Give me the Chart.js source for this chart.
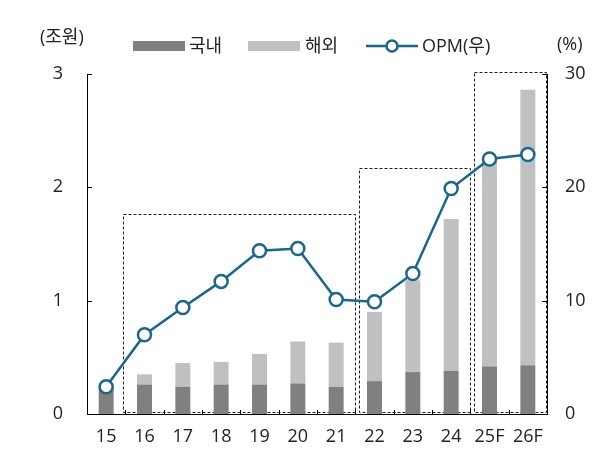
<!DOCTYPE html>
<html>
<head>
<meta charset="utf-8">
<script src="https://cdn.jsdelivr.net/npm/chart.js@4"></script>
<style>
  html, body { margin:0; padding:0; background:#fff; }
  #wrap { position:relative; width:609px; height:450px; font-family:'Open Sans','Noto Sans CJK KR',sans-serif; color:#222; }
  canvas { position:absolute; left:0; top:0; }
  .t { position:absolute; font-size:18px; line-height:20px; white-space:nowrap; }
  .box { position:absolute; height:10px; width:52px; }
  #lg-line { position:absolute; }
</style>
</head>
<body>
<div id="wrap">
  <canvas id="c" width="609" height="450"></canvas>
  <div class="t" style="left:40px; top:26px;">(조원)</div>
  <div class="t" style="left:557px; top:33px;">(%)</div>
  <div class="box" style="left:133px; top:41px; background:#808080;"></div>
  <div class="t" style="left:189px; top:35px;">국내</div>
  <div class="box" style="left:248px; top:41px; background:#c0c0c0;"></div>
  <div class="t" style="left:305px; top:35px;">해외</div>
  <svg id="lg-line" style="left:366px; top:36px;" width="52" height="20">
    <line x1="0" y1="10" x2="52" y2="10" stroke="#1a668c" stroke-width="2.5"/>
    <circle cx="26" cy="10" r="5.5" fill="#fff" stroke="#1a668c" stroke-width="2.5"/>
  </svg>
  <div class="t" style="left:422px; top:35px;">OPM(우)</div>
</div>
<script>
const categories = ['15','16','17','18','19','20','21','22','23','24','25F','26F'];
const domestic = [0.24,0.26,0.24,0.26,0.26,0.27,0.24,0.29,0.37,0.38,0.42,0.43];
const overseas = [0.00,0.09,0.21,0.20,0.27,0.37,0.39,0.61,0.81,1.34,1.82,2.43];
const opm = [2.4,7.0,9.4,11.7,14.4,14.6,10.1,9.9,12.4,19.9,22.5,22.9];
const leftTicks = [0,1,2,3];
const rightTicks = [0,10,20,30];
// dashed groups: first category index, last category index, top value (left axis)
const groupStart = [1,7,10];
const groupEnd = [6,9,11];
const groupTop = [1.765,2.17,3.02];

const FONT = "'Open Sans','Noto Sans CJK KR',sans-serif";
const LINE = '#1a668c';

const decor = {
  id:'decor',
  beforeDatasetsDraw(chart){
    const {ctx, chartArea} = chart;
    const x = chart.scales.x, y = chart.scales.y;
    const half = (x.getPixelForValue(1) - x.getPixelForValue(0))/2;
    ctx.save();
    ctx.strokeStyle = '#1e1e1e';
    ctx.lineWidth = 1;
    ctx.setLineDash([3,2]);
    for (let g=0; g<groupStart.length; g++){
      let l = x.getPixelForValue(groupStart[g]) - half + (g===0 ? -2.5 : 3.5);
      let r = x.getPixelForValue(groupEnd[g]) + half - 1;
      let t = y.getPixelForValue(groupTop[g]);
      let b = chartArea.bottom - 2;
      ctx.strokeRect(Math.round(l)+0.5, Math.round(t)+0.5, Math.round(r-l), Math.round(b-t));
    }
    ctx.restore();
  },
  afterDraw(chart){
    const {ctx, chartArea} = chart;
    const x = chart.scales.x, y = chart.scales.y, y1 = chart.scales.y1;
    ctx.save();
    ctx.strokeStyle = '#000';
    ctx.lineWidth = 1;
    ctx.beginPath();
    y.ticks.forEach(t=>{
      const py = Math.round(y.getPixelForValue(t.value))+0.5;
      ctx.moveTo(chartArea.left, py); ctx.lineTo(chartArea.left+5, py);
    });
    y1.ticks.forEach(t=>{
      const py = Math.round(y1.getPixelForValue(t.value))+0.5;
      ctx.moveTo(chartArea.right, py); ctx.lineTo(chartArea.right-5, py);
    });
    for (let i=1;i<categories.length;i++){
      const px = Math.round((x.getPixelForValue(i-1)+x.getPixelForValue(i))/2)+0.5;
      ctx.moveTo(px, chartArea.bottom); ctx.lineTo(px, chartArea.bottom-4);
    }
    ctx.stroke();
    ctx.restore();
  }
};

new Chart(document.getElementById('c'), {
  data:{
    labels: categories,
    datasets:[
      { type:'line', label:'OPM(우)', data:opm, yAxisID:'y1', order:0,
        borderColor:LINE, borderWidth:2.5, tension:0,
        pointRadius:6.5, pointBorderWidth:2.5, pointBackgroundColor:'#fff', pointBorderColor:LINE },
      { type:'bar', label:'국내', data:domestic, backgroundColor:'#808080', yAxisID:'y', stack:'s', order:1,
        barPercentage:0.39, categoryPercentage:1 },
      { type:'bar', label:'해외', data:overseas, backgroundColor:'#c0c0c0', yAxisID:'y', stack:'s', order:2,
        barPercentage:0.39, categoryPercentage:1 }
    ]
  },
  options:{
    responsive:false, animation:false,
    layout:{ padding:{ top:74, left:0, right:0, bottom:0 } },
    plugins:{ legend:{display:false}, tooltip:{enabled:false} },
    scales:{
      x:{ stacked:true,
        grid:{ display:false, drawTicks:false },
        border:{ display:true, color:'#000', width:1 },
        ticks:{ font:{family:FONT, size:18}, color:'#222', padding:12, maxRotation:0, autoSkip:false },
        afterFit(s){ s.height = 36; } },
      y:{ stacked:true, position:'left', min:0, max:3,
        afterBuildTicks(s){ s.ticks = leftTicks.map(v=>({value:v})); },
        grid:{ display:false, drawTicks:false },
        border:{ display:true, color:'#000', width:1 },
        ticks:{ font:{family:FONT, size:18}, color:'#222', padding:24 },
        afterFit(s){ s.width = 87; } },
      y1:{ position:'right', min:0, max:30,
        afterBuildTicks(s){ s.ticks = rightTicks.map(v=>({value:v})); },
        grid:{ display:false, drawTicks:false },
        border:{ display:true, color:'#000', width:1 },
        ticks:{ font:{family:FONT, size:18}, color:'#222', padding:18 },
        afterFit(s){ s.width = 62; } }
    }
  },
  plugins:[decor]
});
</script>
</body>
</html>
